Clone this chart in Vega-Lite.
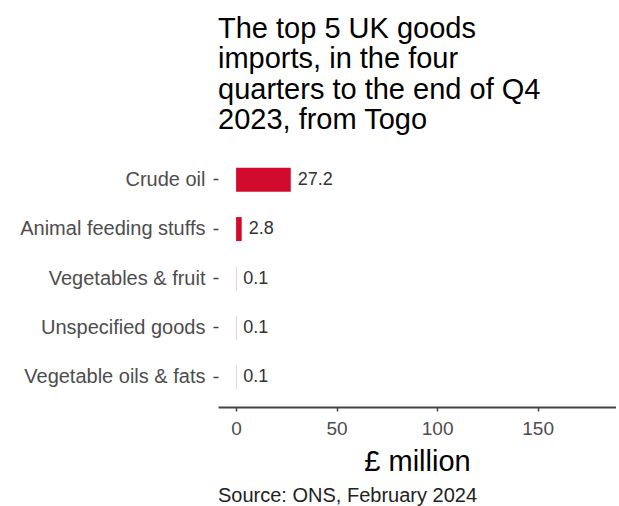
{
  "$schema": "https://vega.github.io/schema/vega-lite/v6.json",
  "padding": {"left": 18, "top": 14, "right": 0, "bottom": 0},
  "background": "white",
  "title": {
    "text": ["The top 5 UK goods", "imports, in the four", "quarters to the end of Q4", "2023, from Togo"],
    "anchor": "start",
    "frame": "group",
    "fontSize": 29,
    "lineHeight": 30.5,
    "font": "Liberation Sans",
    "fontWeight": "normal",
    "color": "#000000",
    "offset": 15
  },
  "config": {"view": {"stroke": null}, "font": "Liberation Sans"},
  "vconcat": [
    {
      "width": 398,
      "height": 257,
      "title": {
        "text": "Source: ONS, February 2024",
        "orient": "bottom",
        "anchor": "start",
        "frame": "group",
        "fontSize": 20,
        "fontWeight": "normal",
        "color": "#222222",
        "offset": 10
      },
      "data": {
        "values": [
          {"category": "Crude oil", "value": 27.2},
          {"category": "Animal feeding stuffs", "value": 2.8},
          {"category": "Vegetables & fruit", "value": 0.1},
          {"category": "Unspecified goods", "value": 0.1},
          {"category": "Vegetable oils & fats", "value": 0.1}
        ]
      },
      "encoding": {
        "y": {
          "field": "category",
          "type": "nominal",
          "sort": ["Crude oil", "Animal feeding stuffs", "Vegetables & fruit", "Unspecified goods", "Vegetable oils & fats"],
          "scale": {"paddingInner": 0.515, "paddingOuter": 0.3575},
          "axis": {
            "title": null,
            "domain": false,
            "ticks": true,
            "tickSize": 5,
            "tickWidth": 1.5,
            "tickColor": "#444444",
            "labelFontSize": 20,
            "labelColor": "#4d4d4d",
            "labelPadding": 8,
            "labelLimit": 400,
            "minExtent": 200,
            "maxExtent": 200
          }
        },
        "x": {
          "field": "value",
          "type": "quantitative",
          "scale": {"domain": [-9, 189], "nice": false, "zero": false},
          "axis": {
            "values": [0, 50, 100, 150],
            "grid": false,
            "domainColor": "#444444",
            "domainWidth": 2,
            "tickColor": "#444444",
            "tickSize": 4,
            "tickWidth": 1.5,
            "labelFontSize": 19,
            "labelColor": "#4d4d4d",
            "labelPadding": 8,
            "title": "£ million",
            "titleFontSize": 29,
            "titleFontWeight": "normal",
            "titleColor": "#000000",
            "titlePadding": 9
          }
        }
      },
      "layer": [
        {"mark": {"type": "bar", "color": "#d20a2d"}},
        {
          "mark": {"type": "text", "align": "left", "dx": 7, "baseline": "middle", "fontSize": 18, "color": "#333333"},
          "encoding": {"text": {"field": "value", "type": "quantitative", "format": ".1f"}}
        }
      ]
    }
  ]
}
